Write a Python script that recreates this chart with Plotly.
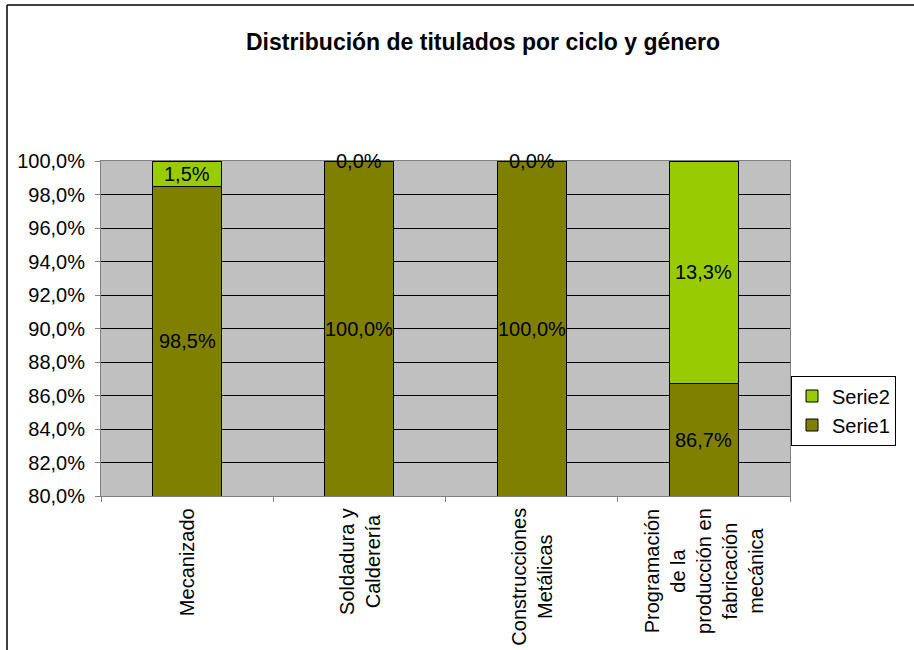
import plotly.graph_objects as go

categories = ["Mecanizado", "Soldadura y<br>Calderería", "Construcciones<br>Metálicas",
              "Programación<br>de la<br>producción en<br>fabricación<br>mecánica"]
serie1 = [0.985, 1.000, 1.000, 0.867]
serie2 = [0.015, 0.000, 0.000, 0.133]
y_min, y_max = 0.80, 1.00
y_ticks = [0.80, 0.82, 0.84, 0.86, 0.88, 0.90, 0.92, 0.94, 0.96, 0.98, 1.00]

W, H = 914, 650
ml, mt = 101, 161
pr, pb = 790, 496
mr, mb = W - pr, H - pb
pw, ph = pr - ml, pb - mt

def px_x(p):
    return (p - ml) / pw

def px_y(p):
    return (pb - p) / ph

FONT = "Liberation Sans, Arial, sans-serif"

fig = go.Figure()
fig.add_bar(x=list(range(len(categories))), y=serie1, name="Serie1",
            marker=dict(color="#808000", line=dict(color="#000000", width=1)))
fig.add_bar(x=list(range(len(categories))), y=serie2, name="Serie2",
            marker=dict(color="#99CC00", line=dict(color="#000000", width=1)))

def fmt(v):
    return f"{v*100:.1f}%".replace(".", ",")

annotations = []
for i, (a, b) in enumerate(zip(serie1, serie2)):
    annotations.append(dict(x=i, y=(y_min + min(a, y_max)) / 2 if a > y_min else y_min,
                            xref="x", yref="y", text=fmt(a), showarrow=False,
                            font=dict(size=20, color="#000000", family=FONT)))
    annotations.append(dict(x=i, y=a + b / 2, xref="x", yref="y", text=fmt(b), showarrow=False,
                            font=dict(size=20, color="#000000", family=FONT)))
for i, c in enumerate(categories):
    annotations.append(dict(x=i, y=px_y(506), xref="x", yref="paper", text=c, showarrow=False,
                            textangle=-90, align="center", xanchor="center", yanchor="top",
                            font=dict(size=20, color="#000000", family=FONT)))
annotations.append(dict(x=px_x(483), y=px_y(42), xref="paper", yref="paper",
                        text="<b>Distribución de titulados por ciclo y género</b>",
                        showarrow=False, xanchor="center", yanchor="middle",
                        font=dict(size=23, color="#000000", family=FONT)))

shapes = [
    dict(type="line", xref="paper", yref="paper", x0=px_x(7), x1=px_x(7), y0=px_y(700), y1=px_y(5),
         line=dict(color="#000000", width=1.5)),
    dict(type="line", xref="paper", yref="paper", x0=px_x(7), x1=px_x(1000), y0=px_y(5), y1=px_y(5),
         line=dict(color="#000000", width=1.5)),
]

fig.update_layout(
    width=W, height=H, margin=dict(l=ml, r=mr, t=mt, b=mb),
    barmode="stack", bargap=0.6,
    paper_bgcolor="#FFFFFF", plot_bgcolor="#C0C0C0",
    separators=",.",
    font=dict(family=FONT, size=20, color="#000000"),
    showlegend=True,
    legend=dict(x=px_x(791), xanchor="left", y=px_y(410.5), yanchor="middle",
                bordercolor="#000000", borderwidth=1, bgcolor="#FFFFFF",
                traceorder="reversed", font=dict(size=20, family=FONT),
                itemwidth=30, tracegroupgap=0),
    annotations=annotations, shapes=shapes,
)
fig.update_xaxes(range=[-0.5, len(categories) - 0.5], tickvals=[-0.5, 0.5, 1.5, 2.5, 3.5],
                 showticklabels=False, ticks="outside", ticklen=5, tickcolor="#808080",
                 showgrid=False, showline=True, linecolor="#808080", linewidth=1, mirror=True,
                 zeroline=False)
fig.update_yaxes(range=[y_min, y_max], tickvals=y_ticks, tickformat=".1%",
                 ticks="outside", ticklen=5, tickcolor="#808080", ticklabelstandoff=6,
                 showgrid=True, gridcolor="#000000", gridwidth=1,
                 showline=True, linecolor="#808080", linewidth=1, mirror=True, zeroline=False,
                 tickfont=dict(size=20, family=FONT))

fig.write_html("out.html", config={"displayModeBar": False},
               post_script="document.body.style.margin='0px';")
